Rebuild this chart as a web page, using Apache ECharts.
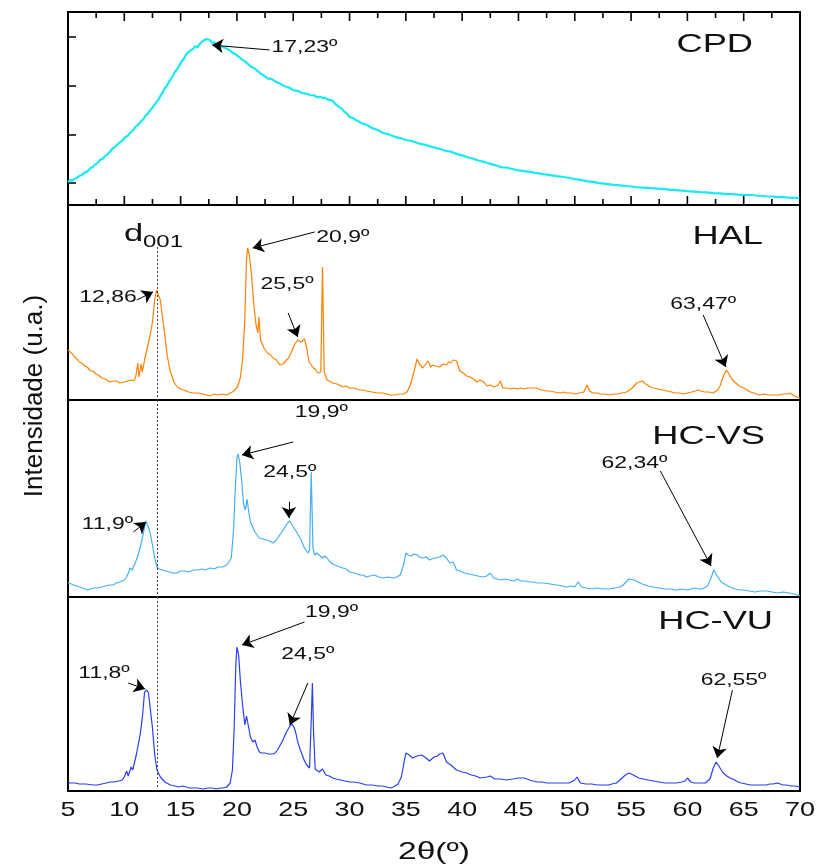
<!DOCTYPE html>
<html><head><meta charset="utf-8">
<script src="https://cdn.jsdelivr.net/npm/echarts@6/dist/echarts.min.js"></script>
<style>html,body{margin:0;padding:0;background:#fff}#c{width:818px;height:865px}</style>
</head><body><div id="c"></div><script>
// ---- data (2θ in degrees, intensity in arbitrary units) ----
const xTicks = [5,10,15,20,25,30,35,40,45,50,55,60,65,70];
const xMinorTicks = [7.5,12.5,17.5,22.5,27.5,32.5,37.5,42.5,47.5,52.5,57.5,62.5,67.5];
const cpdTicks = [200,400,600,800];
const sampleNames = ['CPD','HAL','HC-VS','HC-VU'];

const cpd = [[5.0,204],[5.2,212],[5.4,210],[5.6,218],[5.8,222],[6.0,229],[6.2,233],[6.5,244],[6.7,247],[7.0,262],[7.2,266],[7.4,276],[7.6,281],[7.84,295],[8.1,301],[8.3,312],[8.5,318],[8.7,328],[9.0,344],[9.2,349],[9.5,364],[9.8,373],[10.0,386],[10.3,394],[10.5,406],[10.8,418],[11.0,432],[11.2,438],[11.5,455],[11.7,463],[11.9,478],[12.1,486],[12.3,500],[12.5,510],[12.8,530],[13.0,541],[13.2,558],[13.4,572],[13.6,590],[13.8,602],[14.06,623],[14.3,640],[14.5,658],[14.7,668],[15.0,693],[15.1,686],[15.3,712],[15.45,720],[15.57,734],[15.7,728],[15.9,745],[16.1,751],[16.3,763],[16.5,758],[16.7,772],[16.85,770],[17.0,785],[17.15,781],[17.3,792],[17.45,784],[17.6,788],[17.8,776],[18.0,778],[18.2,768],[18.4,770],[18.7,759],[19.0,755],[19.3,747],[19.65,734],[19.9,729],[20.2,718],[20.5,706],[20.8,697],[21.2,680],[21.6,670],[22.05,652],[22.4,642],[22.7,630],[23.1,627],[23.5,615],[23.8,610],[24.2,598],[24.6,594],[25.0,582],[25.4,579],[25.8,570],[26.1,568],[26.5,562],[26.8,561],[27.2,552],[27.4,555],[27.6,549],[27.8,551],[28.0,545],[28.3,541],[28.5,538],[28.8,522],[29.0,515],[29.3,506],[29.5,495],[29.8,484],[30.0,471],[30.3,468],[30.5,460],[30.8,454],[31.0,447],[31.5,440],[32.0,426],[32.5,418],[33.0,406],[33.5,400],[34.0,390],[34.5,385],[35.0,377],[35.6,372],[36.2,362],[36.8,356],[37.4,348],[37.9,342],[38.5,333],[39.0,329],[39.5,320],[40.0,314],[40.4,307],[41.0,300],[41.5,292],[42.0,287],[42.5,279],[43.0,273],[43.4,266],[44.0,263],[44.5,258],[45.0,252],[45.5,249],[46.0,246],[46.5,242],[47.2,237],[47.8,233],[48.4,229],[49.0,225],[49.5,222],[50.0,216],[50.5,213],[51.0,208],[51.6,205],[52.2,200],[52.8,197],[53.5,193],[54.0,191],[54.5,188],[55.0,186],[55.5,183],[56.1,181],[56.7,179],[57.4,177],[58.0,175],[58.5,172],[59.0,171],[59.5,169],[60.0,167],[60.6,165],[61.1,163],[61.7,162],[62.3,159],[62.9,158],[63.5,155],[64.0,155],[64.5,153],[65.0,152],[65.6,151],[66.3,148],[67.0,146],[67.5,145],[68.0,142],[68.5,143],[69.0,140],[69.5,139],[70.0,138]];

const hal = [[5.0,50],[5.2,48],[5.4,46],[5.6,43],[5.8,41],[6.0,38],[6.2,37],[6.5,34],[6.7,33],[7.0,29],[7.2,29],[7.5,26],[7.7,25],[8.0,22],[8.3,21],[8.7,18],[9.0,19],[9.3,19],[9.6,17],[10.0,18],[10.3,19],[10.6,20],[10.8,19],[11.0,22],[11.2,37],[11.3,23],[11.5,36],[11.6,28],[11.8,40],[12.0,50],[12.3,65],[12.5,78],[12.7,100],[12.86,110],[13.0,108],[13.2,100],[13.4,82],[13.6,65],[13.8,45],[14.05,30],[14.4,18],[14.7,13],[15.0,11],[15.3,10],[15.7,8],[16.1,7],[16.5,7],[17.0,6],[17.3,5],[17.6,4],[18.0,6],[18.3,5],[18.7,6],[19.1,5],[19.4,7],[19.6,8],[20.0,12],[20.3,22],[20.5,40],[20.7,80],[20.85,140],[20.95,152],[21.1,145],[21.3,125],[21.5,95],[21.7,75],[21.85,67],[21.95,83],[22.1,60],[22.4,52],[22.7,47],[23.0,45],[23.2,42],[23.5,40],[23.8,35],[24.1,36],[24.4,40],[24.6,42],[24.8,47],[25.1,55],[25.4,60],[25.7,58],[26.0,61],[26.2,52],[26.4,38],[26.6,35],[26.8,32],[27.0,30],[27.2,27],[27.45,28],[27.6,133],[27.75,28],[28.0,20],[28.2,19],[28.5,17],[28.9,16],[29.4,13],[29.7,14],[30.0,12],[30.4,12],[30.9,10],[31.2,10],[31.5,9],[32.0,8],[32.5,7],[33.0,7],[33.6,5],[34.0,5],[34.4,6],[34.8,6],[35.1,8],[35.4,15],[35.6,23],[36.0,41],[36.2,36],[36.5,32],[36.7,35],[36.97,39],[37.2,33],[37.4,35],[37.6,34],[38.0,33],[38.3,36],[38.6,35],[38.8,38],[39.0,37],[39.2,40],[39.5,39],[39.8,29],[40.1,27],[40.4,24],[40.7,23],[41.0,21],[41.3,18],[41.6,20],[41.8,19],[42.0,17],[42.2,14],[42.5,15],[42.8,13],[43.2,15],[43.4,19],[43.6,12],[44.0,12],[44.3,11],[44.6,12],[44.9,11],[45.2,12],[45.5,11],[45.8,12],[46.1,12],[46.6,12],[47.0,10],[47.5,9],[47.8,9],[48.2,8],[48.7,7],[49.0,8],[49.3,7],[49.7,7],[50.0,6],[50.4,7],[50.8,8],[51.1,15],[51.3,9],[51.6,7],[52.0,7],[52.3,6],[52.7,6],[53.1,5],[53.5,6],[53.8,6],[54.2,7],[54.6,8],[55.1,12],[55.5,17],[56.0,19],[56.3,16],[56.7,13],[57.0,12],[57.4,11],[57.8,10],[58.2,9],[58.6,8],[58.9,7],[59.3,7],[59.6,6],[60.0,7],[60.4,8],[60.7,9],[61.0,10],[61.2,9],[61.5,8],[61.9,8],[62.3,7],[62.7,10],[62.9,14],[63.2,24],[63.47,30],[63.7,26],[64.0,20],[64.3,17],[64.6,14],[65.0,12],[65.3,10],[65.6,8],[65.9,7],[66.4,5],[66.8,6],[67.3,5],[67.8,5],[68.2,5],[68.5,6],[68.8,6],[69.1,7],[69.5,4],[70.0,2]];

const hcvs = [[5.0,14],[5.3,13],[5.5,12],[5.8,11],[6.0,10],[6.3,9],[6.7,7],[7.0,8],[7.3,9],[7.6,9],[8.0,10],[8.3,11],[8.7,12],[9.0,12],[9.3,14],[9.6,15],[9.8,16],[10.0,17],[10.2,20],[10.4,25],[10.5,29],[10.7,27],[11.0,35],[11.2,41],[11.4,49],[11.7,64],[11.9,76],[12.1,71],[12.3,64],[12.5,52],[12.7,39],[12.9,30],[13.1,28],[13.4,27],[13.7,26],[14.0,25],[14.3,24],[14.7,24],[15.0,26],[15.4,26],[15.7,25],[16.1,27],[16.5,27],[16.9,28],[17.2,27],[17.6,29],[18.0,28],[18.3,30],[18.7,30],[19.1,32],[19.5,39],[19.7,67],[19.85,107],[20.0,139],[20.1,143],[20.25,135],[20.4,119],[20.6,92],[20.75,87],[20.9,98],[21.05,85],[21.2,75],[21.4,70],[21.6,65],[21.8,62],[22.0,59],[22.3,58],[22.6,57],[22.9,56],[23.2,54],[23.5,57],[23.8,62],[24.0,65],[24.2,69],[24.5,74],[24.7,76],[25.0,70],[25.3,65],[25.5,61],[25.7,57],[26.0,49],[26.3,44],[26.45,47],[26.6,125],[26.75,49],[26.9,42],[27.1,44],[27.3,42],[27.6,39],[27.8,41],[28.0,39],[28.2,36],[28.5,33],[28.9,31],[29.4,29],[29.7,28],[30.0,25],[30.4,24],[30.9,22],[31.2,22],[31.5,20],[31.8,21],[32.2,22],[32.6,20],[33.0,19],[33.4,20],[33.9,19],[34.2,20],[34.5,22],[34.8,32],[35.0,44],[35.2,42],[35.5,41],[35.7,43],[36.0,42],[36.2,40],[36.5,39],[36.8,40],[37.1,37],[37.3,38],[37.6,39],[38.0,40],[38.3,42],[38.6,39],[38.9,34],[39.2,35],[39.5,27],[39.8,26],[40.2,24],[40.6,23],[41.0,22],[41.4,21],[41.8,20],[42.2,21],[42.5,24],[42.8,19],[43.1,18],[43.4,17],[43.8,18],[44.2,17],[44.6,16],[44.9,18],[45.2,16],[45.6,16],[46.0,15],[46.3,15],[46.7,14],[47.2,14],[47.8,13],[48.4,12],[48.9,11],[49.3,10],[49.7,11],[50.0,10],[50.3,15],[50.6,10],[51.0,9],[51.5,8],[52.0,9],[52.5,8],[53.0,8],[53.5,9],[54.0,10],[54.3,12],[54.8,18],[55.3,17],[55.6,15],[56.0,13],[56.5,11],[57.0,10],[57.5,9],[58.0,8],[58.5,8],[59.0,7],[59.5,8],[60.0,7],[60.3,8],[60.6,9],[61.0,8],[61.3,8],[61.8,11],[62.1,19],[62.34,27],[62.6,22],[63.0,15],[63.3,13],[63.6,11],[64.0,9],[64.3,8],[64.6,7],[65.0,7],[65.5,6],[66.0,5],[66.5,6],[67.0,6],[67.5,5],[68.0,4],[68.5,5],[69.0,4],[69.5,3],[70.0,1]];

const hcvu = [[5.0,9],[5.2,8],[5.6,8],[6.0,7],[6.6,7],[7.2,6],[7.6,6],[8.0,7],[8.4,8],[8.7,9],[9.1,9],[9.5,10],[9.8,11],[10.0,14],[10.2,20],[10.35,15],[10.6,24],[10.75,21],[11.1,38],[11.4,56],[11.6,73],[11.8,99],[12.0,101],[12.15,98],[12.3,83],[12.5,63],[12.7,36],[12.9,21],[13.2,14],[13.6,9],[14.1,6],[14.5,5],[14.8,4],[15.2,5],[15.5,4],[15.8,3],[16.1,3],[16.5,3],[17.0,2],[17.4,3],[17.8,3],[18.2,2],[18.5,3],[18.8,3],[19.1,4],[19.4,8],[19.6,21],[19.75,61],[19.9,126],[20.0,144],[20.15,136],[20.3,111],[20.5,86],[20.7,66],[20.85,75],[21.0,73],[21.2,54],[21.4,49],[21.6,51],[21.8,44],[22.0,39],[22.2,38],[22.5,38],[22.8,37],[23.2,37],[23.4,38],[23.6,41],[23.8,45],[24.0,49],[24.2,54],[24.4,59],[24.7,65],[24.9,67],[25.1,63],[25.25,57],[25.4,49],[25.6,42],[25.8,36],[26.0,30],[26.2,26],[26.45,23],[26.6,71],[26.7,108],[26.8,61],[26.95,22],[27.1,20],[27.3,19],[27.6,22],[27.9,16],[28.2,15],[28.5,13],[28.8,12],[29.2,11],[29.6,10],[30.0,9],[30.4,9],[30.9,8],[31.2,7],[31.5,6],[32.0,6],[32.5,5],[32.9,5],[33.3,4],[33.6,3],[33.9,4],[34.3,7],[34.6,14],[35.0,38],[35.3,36],[35.6,33],[36.0,35],[36.4,36],[36.8,33],[37.1,30],[37.5,34],[37.8,35],[38.0,37],[38.3,38],[38.6,29],[39.0,26],[39.3,23],[39.5,21],[40.0,19],[40.4,18],[40.8,16],[41.2,15],[41.6,13],[42.2,14],[42.5,15],[42.9,12],[43.4,12],[43.9,11],[44.5,12],[45.0,13],[45.5,13],[46.0,11],[46.3,10],[46.7,9],[47.1,9],[47.5,8],[48.0,8],[48.5,8],[49.0,8],[49.5,8],[50.0,11],[50.2,14],[50.5,8],[51.0,7],[51.5,7],[52.0,6],[52.5,6],[53.0,6],[53.3,7],[53.7,8],[54.0,11],[54.5,16],[54.8,18],[55.2,16],[55.7,13],[56.1,12],[56.5,11],[57.0,10],[57.5,9],[58.0,8],[58.5,8],[59.0,8],[59.5,9],[59.8,10],[60.0,13],[60.3,9],[60.6,8],[61.0,8],[61.3,8],[61.6,8],[62.0,12],[62.3,23],[62.55,29],[62.8,25],[63.0,21],[63.2,18],[63.5,15],[63.8,13],[64.2,11],[64.5,9],[64.8,8],[65.2,7],[65.6,6],[66.0,6],[66.5,6],[67.0,6],[67.3,7],[67.6,7],[68.0,8],[68.5,6],[68.8,6],[69.2,5],[69.6,5],[70.0,4]];

// peak annotations: label centre, arrow start, arrow tip (data space)
const cpdNotes  = [{t:'17,23º', at:[26.0,757], from:[22.9,747], to:[17.8,767]}];
const halNotes  = [
  {t:'12,86', at:[8.55,103], from:[11.1,100], to:[12.55,108]},
  {t:'20,9º', at:[29.4,163], from:[26.9,168], to:[21.4,152]},
  {t:'25,5º', at:[24.45,116], from:[24.55,87], to:[25.4,63]},
  {t:'63,47º', at:[61.4,96], from:[61.4,85], to:[63.4,33]}];
const hcvsNotes = [
  {t:'19,9º', at:[27.5,185], from:[25.0,155], to:[20.45,142]},
  {t:'24,5º', at:[24.7,125], from:[24.62,95], to:[24.62,79]},
  {t:'11,9º', at:[8.5,73], from:[10.8,65], to:[11.93,75]},
  {t:'62,34º', at:[55.3,134], from:[57.6,126], to:[62.1,31]}];
const hcvuNotes = [
  {t:'19,9º', at:[28.4,179], from:[26.0,169], to:[20.45,146]},
  {t:'24,5º', at:[26.3,137], from:[26.3,108], to:[24.7,66]},
  {t:'11,8º', at:[8.2,118], from:[10.35,108], to:[11.84,102]},
  {t:'62,55º', at:[64.1,111], from:[64.0,101], to:[62.65,33]}];
const d001 = 12.9;

// ---- chart ----
const FONT = '"Liberation Sans", Arial, sans-serif';
const colors = ['#19E9F0','#FF8000','#45AEF5','#2A3EF5'];
const gridTops = [12,205,400,597];
const gridHeights = [193,195,197,194];
const yMax = [903,195,197,194];
const yMin = [110,0,0,0];

function xa(grid){
  return {type:'value', gridIndex:grid, min:5, max:70, interval:5,
    axisLine:{show:false}, axisTick:{show:false}, axisLabel:{show:false}, splitLine:{show:false}};
}
const xAxis = [xa(0), xa(1), xa(2), xa(3)];
const yAxis = [0,1,2,3].map(i => ({type:'value', gridIndex:i, min:yMin[i], max:yMax[i],
  axisLine:{show:false}, axisLabel:{show:false}, splitLine:{show:false},
  axisTick: i===0 ? {show:true, inside:true, length:8, customValues:cpdTicks, lineStyle:{color:'#000', width:1.5}} : {show:false}}));

function arrows(list){
  return {silent:true, animation:false, symbol:['none','arrow'], symbolSize:11,
    label:{show:false}, lineStyle:{color:'#000', width:1, type:'solid'},
    data:list.map(n => [{coord:n.from},{coord:n.to}])};
}

const datasets = [cpd, hal, hcvs, hcvu];
const noteSets = [cpdNotes, halNotes, hcvsNotes, hcvuNotes];
const series = datasets.map((d,i) => ({type:'line', name:sampleNames[i], xAxisIndex:i, yAxisIndex:i, data:d,
    showSymbol:false, symbol:'none', animation:false, clip:true,
    lineStyle:{color:colors[i], width: i===0 ? 2.2 : 1.2}, markLine:arrows(noteSets[i])}));
// dotted d001 reference line through the lower three panels
const dSeries = [
  {idx:1, y0:153, y1:0}, {idx:2, y0:197, y1:0}, {idx:3, y0:194, y1:4}
].map(o => ({type:'line', xAxisIndex:o.idx, yAxisIndex:o.idx, data:[], animation:false,
  markLine:{silent:true, animation:false, symbol:['none','none'], label:{show:false},
    lineStyle:{color:'#444', width:1, type:[2,2]},
    data:[[{coord:[d001,o.y0]},{coord:[d001,o.y1]}]]}}));
// CPD panel inner x ticks drawn as thin rect symbols on the top and bottom edges
function tickSeries(list, yVal, len, dir){
  return {type:'scatter', xAxisIndex:0, yAxisIndex:0, silent:true, animation:false, clip:false, z:20,
    symbol:'rect', symbolSize:[1.6, len], symbolOffset:[0, dir*len/2],
    itemStyle:{color:'#000', opacity:1},
    data:list.map(t => [t, yVal])};
}
const ticks = [
  tickSeries(xTicks, yMax[0], 9, 1), tickSeries(xMinorTicks, yMax[0], 6, 1),
  tickSeries(xTicks, yMin[0], 9, -1), tickSeries(xMinorTicks, yMin[0], 6, -1)
];

const option = {
  backgroundColor:'#fff',
  animation:false,
  grid: gridTops.map((t,i) => ({left:68, right:18, top:t, height:gridHeights[i], show:true,
    borderColor:'#000', borderWidth:2, backgroundColor:'transparent'})),
  xAxis, yAxis,
  series: series.concat(dSeries, ticks)
};
const chart = echarts.init(document.getElementById('c'));
chart.setOption(option);

// ---- texts (placed through the chart's own coordinate conversion) ----
function px(panel, pt){ return chart.convertToPixel({xAxisIndex:panel, yAxisIndex:panel}, pt); }
function txt(x, y, s, size, sx, align, extra){
  return Object.assign({type:'text', x:x, y:y, scaleX:sx, silent:true, z:10,
    style:{text:s, fill:'#111', fontSize:size, fontFamily:FONT, align:align||'center', verticalAlign:'middle'}}, extra||{});
}
const g = [];
noteSets.forEach((list,i) => list.forEach(n => {
  const p = px(i, n.at); g.push(txt(p[0], p[1], n.t, 17, 1.35));
}));
// d001 label
const dp = px(1, [d001, 158]);
g.push(txt(dp[0]-33, dp[1]-7, 'd', 23, 1.5, 'left'));
g.push(txt(dp[0]-14, dp[1]+1, '001', 16, 1.5, 'left'));
// sample names
const labelRight = [753,763,765,773];
const labelY = [45,237,437,622];
sampleNames.forEach((n,i) => g.push(txt(labelRight[i], labelY[i], n, 25, 1.45, 'right')));
// x tick labels
const bottomY = px(3, [5, 0])[1];
xTicks.forEach(t => { const p = px(3, [t, 0]); g.push(txt(p[0], bottomY + 19, String(t), 21, 1.28)); });
// axis titles
const midX = px(3, [37.5, 0])[0];
g.push(txt(midX, bottomY + 61, '2θ(º)', 24, 1.4));
g.push(txt(35, 396, 'Intensidade (u.a.)', 26, 1, 'center', {rotation:Math.PI/2}));
chart.setOption({graphic:g});
</script></body></html>
